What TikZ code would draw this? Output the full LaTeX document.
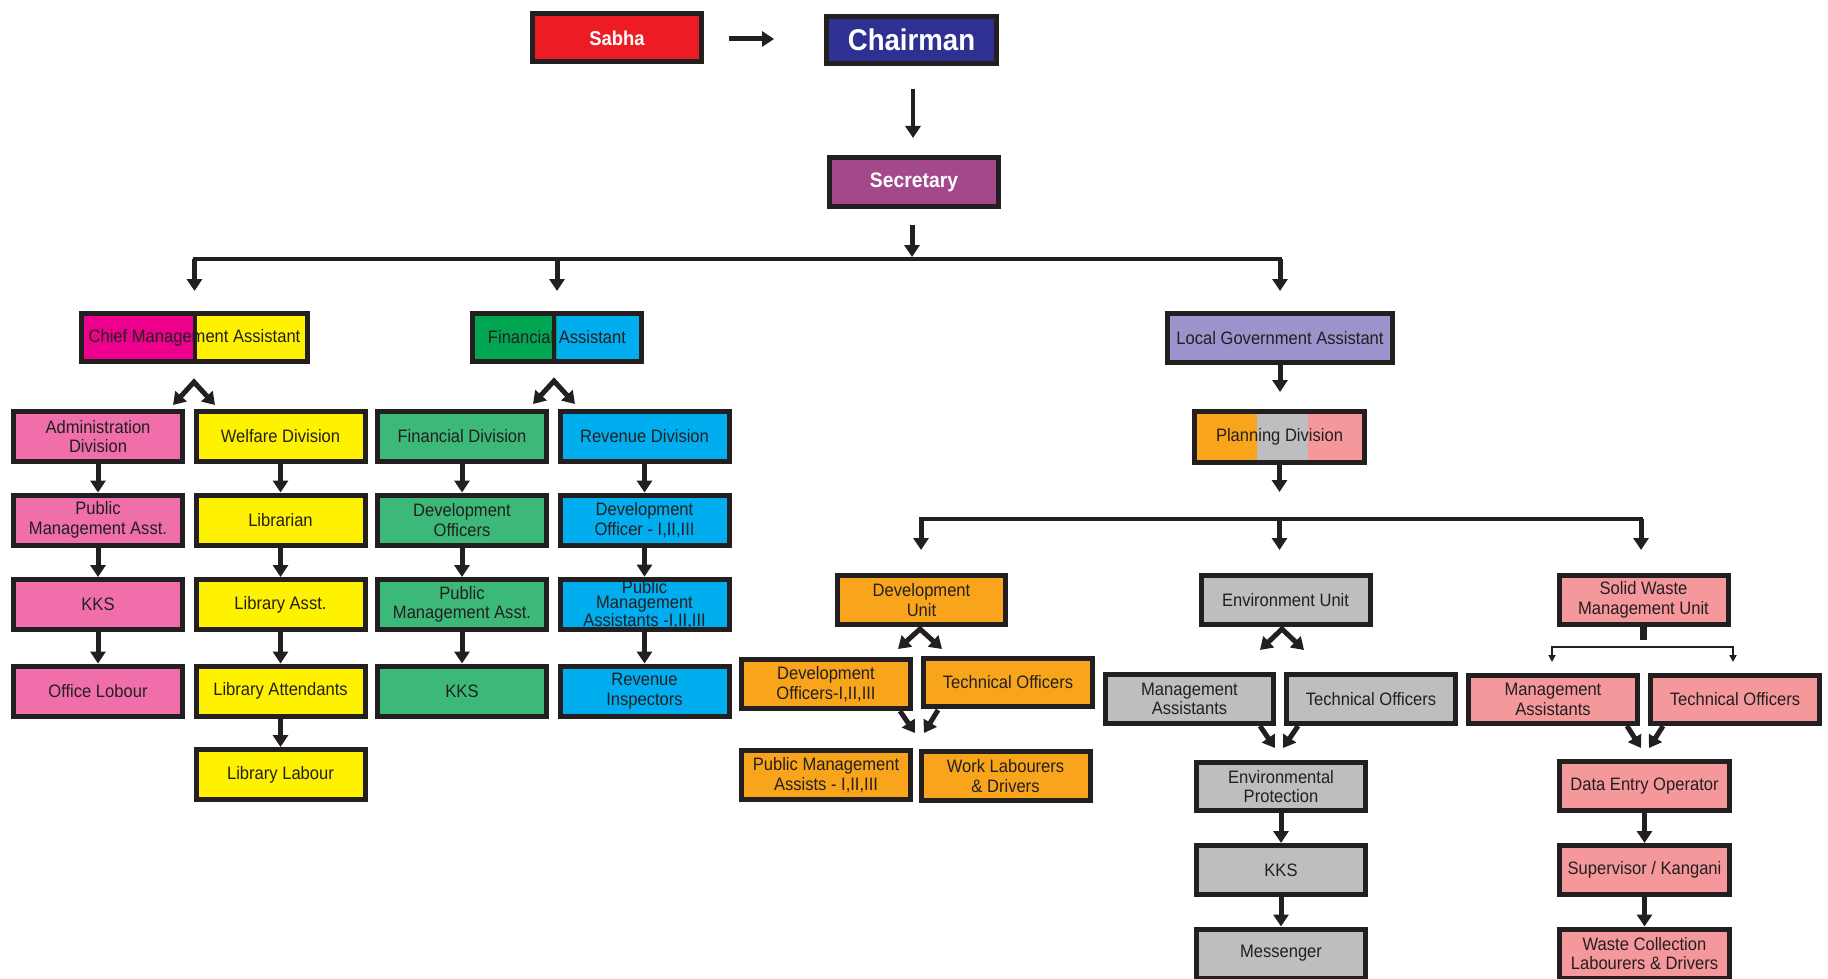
\documentclass[tikz,border=0pt]{standalone}
\usepackage{fontspec}
\setmainfont{Liberation Sans}[FakeStretch=0.92]
\usetikzlibrary{arrows.meta,calc}
\definecolor{ink}{HTML}{231F20}
\definecolor{sabhared}{HTML}{ED1C24}
\definecolor{chairblue}{HTML}{2E3192}
\definecolor{secpurple}{HTML}{A3498B}
\definecolor{cmag}{HTML}{EC008C}
\definecolor{cyel}{HTML}{FFF200}
\definecolor{cpink}{HTML}{F06EAA}
\definecolor{fgreen}{HTML}{00A651}
\definecolor{dgreen}{HTML}{3CB878}
\definecolor{cblue}{HTML}{00AEEF}
\definecolor{lav}{HTML}{9A93CC}
\definecolor{corange}{HTML}{F9A51B}
\definecolor{cgrey}{HTML}{BCBEC0}
\definecolor{salmon}{HTML}{F4989B}
\newcommand{\boxfont}{\fontsize{18}{19.5}\selectfont}
\begin{document}
\begin{tikzpicture}[x=1pt,y=-1pt,
  box/.style={draw=ink,line width=5pt,minimum width=169pt,minimum height=50pt,inner sep=1pt,align=center,font=\boxfont,text=ink},
  topbox/.style={box,text=white},
  arr/.style={draw=ink,line width=5pt,-{Triangle[width=15pt,length=12pt]}},
  twoarr/.style={draw=ink,line width=5pt,line join=miter,{Triangle[width=15pt,length=12pt]}-{Triangle[width=15pt,length=12pt]}},
  busline/.style={draw=ink,line width=4pt,line cap=rect},
  thinarr/.style={draw=ink,line width=2pt,{Triangle[width=7pt,length=7pt]}-{Triangle[width=7pt,length=7pt]}},
  divider/.style={draw=ink,line width=4pt},
  split2/.style 2 args={path picture={
    \fill[#1] (path picture bounding box.south west) rectangle ($(path picture bounding box.north west)!0.5!(path picture bounding box.north east)$);
    \fill[#2] ($(path picture bounding box.south west)!0.5!(path picture bounding box.south east)$) rectangle (path picture bounding box.north east);}},
  split3/.style={path picture={
    \fill[corange] (path picture bounding box.south west) rectangle ($(path picture bounding box.north west)!0.366!(path picture bounding box.north east)$);
    \fill[cgrey] ($(path picture bounding box.south west)!0.366!(path picture bounding box.south east)$) rectangle ($(path picture bounding box.north west)!0.669!(path picture bounding box.north east)$);
    \fill[salmon] ($(path picture bounding box.south west)!0.669!(path picture bounding box.south east)$) rectangle (path picture bounding box.north east);}}
]
\useasboundingbox (0,0) rectangle (1828,979);
\fill[white] (0,0) rectangle (1828,979);

% top
\node[topbox,fill=sabhared,minimum height=48pt,font=\bfseries\fontsize{20}{22}\selectfont] (sabha) at (617,38) {Sabha};
\node[topbox,fill=chairblue,minimum width=170pt,minimum height=47pt,font=\bfseries\fontsize{30}{32}\selectfont] (chair) at (911.5,40) {Chairman};
\node[topbox,fill=secpurple,minimum height=49pt,font=\bfseries\fontsize{21}{23}\selectfont] (sec) at (914,182) {Secretary};

% level 2
\node[box,minimum width=226pt,minimum height=48pt,split2={cmag}{cyel}] (cma) at (194.5,337.5) {Chief Management Assistant};
\node[box,minimum height=48pt,split2={fgreen}{cblue}] (fa) at (557,337.5) {Financial Assistant};
\node[box,fill=lav,minimum width=225pt,minimum height=49pt] (lga) at (1280,338) {Local Government Assistant};
\draw[divider] (cma.north) -- (cma.south);
\draw[divider] ([xshift=-3pt]fa.north) -- ([xshift=-3pt]fa.south);

% column 1
\node[box,fill=cpink] (adm) at (98,436.5) {Administration\\Division};
\node[box,fill=cpink] (pma1) at (98,520) {Public\\Management Asst.};
\node[box,fill=cpink] (kks1) at (98,604.5) {KKS};
\node[box,fill=cpink] (ol) at (98,691) {Office Lobour};
% column 2
\node[box,fill=cyel] (wel) at (280.5,436.5) {Welfare Division};
\node[box,fill=cyel] (lib) at (280.5,520) {Librarian};
\node[box,fill=cyel] (libas) at (280.5,604.5) {Library Asst.};
\node[box,fill=cyel] (libat) at (280.5,691) {Library Attendants};
\node[box,fill=cyel] (libl) at (280.5,774.5) {Library Labour};
% column 3
\node[box,fill=dgreen] (fin) at (462,436.5) {Financial Division};
\node[box,fill=dgreen] (devo) at (462,520) {Development\\Officers};
\node[box,fill=dgreen] (pma2) at (462,604.5) {Public\\Management Asst.};
\node[box,fill=dgreen] (kks2) at (462,691) {KKS};
% column 4
\node[box,fill=cblue] (rev) at (644.5,436.5) {Revenue Division};
\node[box,fill=cblue] (devo2) at (644.5,520) {Development\\Officer - I,II,III};
\node[box,fill=cblue,font=\fontsize{18}{15.5}\selectfont] (pma3) at (644.5,604.5) {Public\\Management\\Assistants -I,II,III};
\node[box,fill=cblue] (ri) at (644.5,691) {Revenue\\Inspectors};

% planning
\node[box,minimum width=170pt,minimum height=51pt,split3] (plan) at (1279.5,437) {Planning Division};

% development unit
\node[box,fill=corange,minimum width=168pt,minimum height=49pt] (du) at (921.5,600) {Development\\Unit};
\node[box,fill=corange,minimum height=49pt] (duo) at (826,684) {Development\\Officers-I,II,III};
\node[box,fill=corange,minimum height=48pt] (dut) at (1008,682.5) {Technical Officers};
\node[box,fill=corange,minimum height=49pt] (dup) at (826,775) {Public Management\\Assists - I,II,III};
\node[box,fill=corange,minimum height=49pt] (duw) at (1005.5,776) {Work Labourers\\\& Drivers};

% environment unit
\node[box,fill=cgrey,minimum height=49pt] (eu) at (1285.5,600) {Environment Unit};
\node[box,fill=cgrey,minimum width=168pt,minimum height=49pt] (eum) at (1189.5,699) {Management\\Assistants};
\node[box,fill=cgrey,minimum height=49pt] (eut) at (1371,699) {Technical Officers};
\node[box,fill=cgrey,minimum height=48pt] (eup) at (1281,786.5) {Environmental\\Protection};
\node[box,fill=cgrey,minimum height=49pt] (euk) at (1281,870) {KKS};
\node[box,fill=cgrey,minimum height=49pt] (eume) at (1281,953.5) {Messenger};

% solid waste
\node[box,fill=salmon,minimum height=49pt] (sw) at (1643.5,600) {Solid Waste\\Management Unit};
\node[box,fill=salmon,minimum height=48pt] (swm) at (1553,699.5) {Management\\Assistants};
\node[box,fill=salmon,minimum height=48pt] (swt) at (1735,699.5) {Technical Officers};
\node[box,fill=salmon,minimum width=170pt,minimum height=49pt] (swd) at (1644.5,786) {Data Entry Operator};
\node[box,fill=salmon,minimum width=170pt,minimum height=49pt] (sws) at (1644.5,870) {Supervisor / Kangani};
\node[box,fill=salmon,minimum width=170pt,minimum height=49pt] (swl) at (1644.5,953.5) {Waste Collection\\Labourers \& Drivers};

% top arrows
\coordinate (sa1) at (729,39);
\coordinate (sa2) at (774,39);
\draw[arr] (sa1) -- (sa2);
\coordinate (ca1) at (913,89);
\coordinate (ca2) at (913,138);
\draw[arr,line width=4pt] (ca1) -- (ca2);
\coordinate (sbus) at (912,259);
\coordinate (sa3) at (912,225);
\draw[busline] (cma.north |- sbus) -- (lga.north |- sbus);
\draw[arr] (sa3) -- ([yshift=2pt]sbus);
\draw[arr] (cma.north |- sbus) -- ++(0,32);
\draw[arr] (fa.north |- sbus) -- ++(0,32);
\draw[arr] (lga.north |- sbus) -- ++(0,32);

% pair arrows
\coordinate (cmaL) at (173,405); \coordinate (cmaA) at (194,382); \coordinate (cmaR) at (215,405);
\draw[twoarr] (cmaL) -- (cmaA) -- (cmaR);
\coordinate (faL) at (533,404); \coordinate (faA) at (554,381); \coordinate (faR) at (575,404);
\draw[twoarr] (faL) -- (faA) -- (faR);

% columns
\draw[arr] (adm.south) -- (pma1.north);
\draw[arr] (pma1.south) -- (kks1.north);
\draw[arr] (kks1.south) -- (ol.north);
\draw[arr] (wel.south) -- (lib.north);
\draw[arr] (lib.south) -- (libas.north);
\draw[arr] (libas.south) -- (libat.north);
\draw[arr] (libat.south) -- (libl.north);
\draw[arr] (fin.south) -- (devo.north);
\draw[arr] (devo.south) -- (pma2.north);
\draw[arr] (pma2.south) -- (kks2.north);
\draw[arr] (rev.south) -- (devo2.north);
\draw[arr] (devo2.south) -- (pma3.north);
\draw[arr] (pma3.south) -- (ri.north);

% local government side
\draw[arr] (lga.south) -- ++(0,27);
\draw[arr] (plan.south) -- ++(0,27);
\coordinate (pbusL) at (921,519);
\coordinate (pbusR) at (1641,519);
\draw[busline] (pbusL) -- (pbusR);
\draw[arr] (pbusL) -- ++(0,31);
\draw[arr] (plan.south |- pbusL) -- ++(0,31);
\draw[arr] (pbusR) -- ++(0,31);

% development unit arrows
\coordinate (duL) at (898,649); \coordinate (duA) at (920,629); \coordinate (duR) at (942,649);
\draw[twoarr] (duL) -- (duA) -- (duR);
\coordinate (dv1) at (900,711); \coordinate (dv1t) at (915,733);
\coordinate (dv2) at (938,710); \coordinate (dv2t) at (924,733);
\draw[arr] (dv1) -- (dv1t);
\draw[arr] (dv2) -- (dv2t);

% environment arrows
\coordinate (euL) at (1260,650); \coordinate (euA) at (1282,629); \coordinate (euR) at (1304,650);
\draw[twoarr] (euL) -- (euA) -- (euR);
\coordinate (ev1) at (1260,726); \coordinate (ev1t) at (1275,748);
\coordinate (ev2) at (1298,726); \coordinate (ev2t) at (1283,748);
\draw[arr] (ev1) -- (ev1t);
\draw[arr] (ev2) -- (ev2t);
\draw[arr] (eup.south) -- (euk.north);
\draw[arr] (euk.south) -- (eume.north);

% solid waste arrows
\fill[ink] ([xshift=-3.5pt]sw.south) rectangle ([xshift=3.5pt,yshift=-13pt]sw.south);
\coordinate (swb1) at (1552,662); \coordinate (swb2) at (1552,647);
\coordinate (swb3) at (1733,647); \coordinate (swb4) at (1733,662);
\draw[thinarr] (swb1) -- (swb2) -- (swb3) -- (swb4);
\coordinate (sv1) at (1627,726); \coordinate (sv1t) at (1641,748);
\coordinate (sv2) at (1663,726); \coordinate (sv2t) at (1649,748);
\draw[arr] (sv1) -- (sv1t);
\draw[arr] (sv2) -- (sv2t);
\draw[arr] (swd.south) -- (sws.north);
\draw[arr] (sws.south) -- (swl.north);
\end{tikzpicture}
\end{document}
